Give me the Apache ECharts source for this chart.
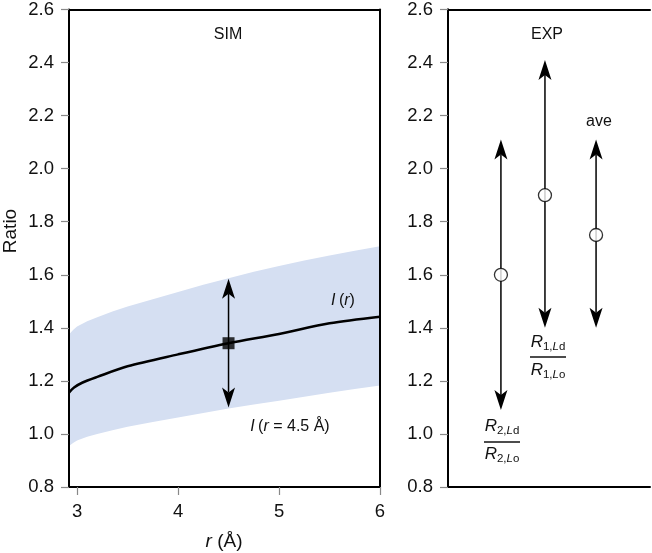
<!DOCTYPE html>
<html>
<head>
<meta charset="utf-8">
<script src="https://cdn.jsdelivr.net/npm/echarts@6/dist/echarts.min.js"></script>
<style>html,body{margin:0;padding:0;background:#fff;}#c{width:652px;height:553px;}</style>
</head>
<body>
<div id="c"></div>
<script>
// ---- data ----
const yTicks = [0.8, 1.0, 1.2, 1.4, 1.6, 1.8, 2.0, 2.2, 2.4, 2.6];
const xTicks = [3, 4, 5, 6];
const simR = [2.92, 2.97, 3.05, 3.2, 3.5, 4.0, 4.5, 5.0, 5.5, 6.0];
const simCurve = [1.156, 1.175, 1.193, 1.215, 1.255, 1.300, 1.342, 1.377, 1.417, 1.442];
const bandR = [2.92, 2.96, 3.0, 3.1, 3.2, 3.35, 3.5, 3.75, 4.0, 4.25, 4.5, 4.75, 5.0, 5.25, 5.5, 5.75, 6.0];
const bandUpper = [1.375, 1.392, 1.405, 1.425, 1.44, 1.462, 1.48, 1.508, 1.535, 1.562, 1.587, 1.611, 1.633, 1.654, 1.673, 1.691, 1.708];
const bandLower = [0.955, 0.966, 0.975, 0.989, 1.0, 1.014, 1.027, 1.045, 1.062, 1.079, 1.096, 1.111, 1.125, 1.140, 1.155, 1.169, 1.183];
// SIM point at r = 4.5 : [r, value, low, high]
const simPoint = [4.5, 1.342, 1.10, 1.585];
// EXP: positions on the (unitless) panel axis, centre values, low & high ends
const expCategories = ['R2', 'R1', 'ave'];
const expX = [0.262, 0.48, 0.733];
const expValue = [1.60, 1.90, 1.75];
const expLow = [1.09, 1.40, 1.40];
const expHigh = [2.11, 2.41, 2.11];

const FONT = 'Liberation Sans, Arial, Helvetica, sans-serif';
const chart = echarts.init(document.getElementById('c'));

function arrowItem(params, api) {
  const x = api.value(0);
  const lo = api.coord([x, api.value(2)]);
  const hi = api.coord([x, api.value(3)]);
  const px = lo[0];
  const L = 20, w = 6.5, n = 5;
  return {
    type: 'group',
    children: [
      { type: 'line', shape: { x1: px, y1: hi[1] + L - n, x2: px, y2: lo[1] - L + n },
        style: { stroke: '#000', lineWidth: 1.5 } },
      { type: 'polygon', shape: { points: [[px, hi[1]], [px - w, hi[1] + L], [px, hi[1] + L - n], [px + w, hi[1] + L]] },
        style: { fill: '#000' } },
      { type: 'polygon', shape: { points: [[px, lo[1]], [px - w, lo[1] - L], [px, lo[1] - L + n], [px + w, lo[1] - L]] },
        style: { fill: '#000' } }
    ]
  };
}

function bandItem(params, api) {
  if (params.dataIndex !== 0) return null;
  const pts = [];
  for (let i = 0; i < bandR.length; i++) pts.push(api.coord([bandR[i], bandUpper[i]]));
  for (let i = bandR.length - 1; i >= 0; i--) pts.push(api.coord([bandR[i], bandLower[i]]));
  return { type: 'polygon', shape: { points: pts }, style: { fill: '#d5dff2' } };
}

const yAxisCommon = {
  type: 'value', min: 0.8, max: 2.6, interval: 0.2, z: 10,
  axisLine: { show: true, lineStyle: { color: '#000', width: 2 } },
  axisTick: { show: true, length: 8, lineStyle: { color: '#888', width: 1.2 } },
  axisLabel: { color: '#111', fontSize: 18.5, fontFamily: FONT, margin: 15, formatter: v => v.toFixed(1) },
  splitLine: { show: false }
};
const borderAxisY = {
  type: 'value', min: 0.8, max: 2.6, position: 'right', z: 10,
  axisLine: { show: true, lineStyle: { color: '#000', width: 2 } },
  axisTick: { show: false }, axisLabel: { show: false }, splitLine: { show: false }
};

const option = {
  animation: false,
  backgroundColor: '#fff',
  grid: [
    { left: 69, top: 7, width: 311, height: 480 },
    { left: 448, top: 7, width: 202, height: 480 }
  ],
  xAxis: [
    { type: 'value', gridIndex: 0, min: 2.92, max: 6, z: 10,
      axisLine: { show: true, onZero: false, lineStyle: { color: '#000', width: 2 } },
      axisTick: { show: true, length: 8, customValues: xTicks, lineStyle: { color: '#888', width: 1.2 } },
      axisLabel: { color: '#111', fontSize: 18.5, fontFamily: FONT, margin: 15, customValues: xTicks },
      splitLine: { show: false } },
    { type: 'value', gridIndex: 0, min: 2.92, max: 6, position: 'top', z: 10,
      axisLine: { show: true, onZero: false, lineStyle: { color: '#000', width: 2 } },
      axisTick: { show: false }, axisLabel: { show: false }, splitLine: { show: false } },
    { type: 'value', gridIndex: 1, min: 0, max: 1, z: 10,
      axisLine: { show: true, onZero: false, lineStyle: { color: '#000', width: 2 } },
      axisTick: { show: false }, axisLabel: { show: false }, splitLine: { show: false } },
    { type: 'value', gridIndex: 1, min: 0, max: 1, position: 'top', z: 10,
      axisLine: { show: true, onZero: false, lineStyle: { color: '#000', width: 2 } },
      axisTick: { show: false }, axisLabel: { show: false }, splitLine: { show: false } }
  ],
  yAxis: [
    Object.assign({ gridIndex: 0 }, yAxisCommon),
    Object.assign({ gridIndex: 0 }, borderAxisY),
    Object.assign({ gridIndex: 1 }, yAxisCommon),
    Object.assign({ gridIndex: 1 }, borderAxisY)
  ],
  series: [
    { type: 'custom', xAxisIndex: 0, yAxisIndex: 0, z: 1, silent: true,
      renderItem: bandItem, data: [[bandR[0], bandLower[0]]], clip: true },
    { type: 'line', xAxisIndex: 0, yAxisIndex: 0, z: 2, smooth: 0.3, showSymbol: false,
      lineStyle: { color: '#000', width: 2.5 },
      data: simR.map((r, i) => [r, simCurve[i]]) },
    { type: 'custom', xAxisIndex: 0, yAxisIndex: 0, z: 3, renderItem: arrowItem,
      encode: { x: 0, y: [1, 2, 3] }, data: [simPoint] },
    { type: 'scatter', xAxisIndex: 0, yAxisIndex: 0, z: 4, symbol: 'rect', symbolSize: 12,
      itemStyle: { color: '#000' }, data: [[simPoint[0], simPoint[1]]] },
    { type: 'custom', xAxisIndex: 2, yAxisIndex: 2, z: 3, renderItem: arrowItem,
      encode: { x: 0, y: [1, 2, 3] },
      data: expX.map((x, i) => [x, expValue[i], expLow[i], expHigh[i]]) },
    { type: 'scatter', xAxisIndex: 2, yAxisIndex: 2, z: 4, symbol: 'circle', symbolSize: 13,
      itemStyle: { color: '#fff', borderColor: '#000', borderWidth: 1.3 },
      data: expX.map((x, i) => [x, expValue[i]]) }
  ],
  graphic: []
};
chart.setOption(option);

// ---- annotations ----
const T = (x, y, text, size, extra) => Object.assign({
  type: 'text', z: 20, x: x, y: y,
  style: Object.assign({ text: text, fill: '#111', font: size + 'px ' + FONT, align: 'center', verticalAlign: 'middle' }, extra || {})
});
const subRich = {
  R: { fontStyle: 'italic', fontSize: 17, fontFamily: FONT, fill: '#111', verticalAlign: 'top', lineHeight: 19 },
  s: { fontSize: 11.5, fontFamily: FONT, fill: '#111', verticalAlign: 'bottom', lineHeight: 11 },
  si: { fontSize: 11.5, fontStyle: 'italic', fontFamily: FONT, fill: '#111', verticalAlign: 'bottom', lineHeight: 11 }
};
const italRich = {
  i: { fontStyle: 'italic', fontSize: 16, fontFamily: FONT, fill: '#111' },
  n: { fontSize: 16, fontFamily: FONT, fill: '#111' }
};
function frac(cx, yNum, yBar, yDen, w, k) {
  return [
    { type: 'text', z: 20, x: cx, y: yNum, style: { text: '{R|R}{s|' + k + ',}{si|L}{s|d}', rich: subRich, align: 'center', verticalAlign: 'middle' } },
    { type: 'line', z: 20, shape: { x1: cx - w / 2, y1: yBar, x2: cx + w / 2, y2: yBar }, style: { stroke: '#111', lineWidth: 1.3 } },
    { type: 'text', z: 20, x: cx, y: yDen, style: { text: '{R|R}{s|' + k + ',}{si|L}{s|o}', rich: subRich, align: 'center', verticalAlign: 'middle' } }
  ];
}
const g = [
  T(228, 35, 'SIM', 16),
  T(547, 35, 'EXP', 16),
  T(599, 122, 'ave', 16),
  { type: 'text', z: 20, x: 343, y: 301, style: { text: '{i|I} {n|(}{i|r}{n|)}', rich: italRich, align: 'center', verticalAlign: 'middle' } },
  { type: 'text', z: 20, x: 290, y: 427, style: { text: '{i|I} {n|(}{i|r}{n| = 4.5 Å)}', rich: italRich, align: 'center', verticalAlign: 'middle' } },
  { type: 'text', z: 20, x: 11, y: 231, rotation: Math.PI / 2, style: { text: 'Ratio', font: '19px ' + FONT, fill: '#111', align: 'center', verticalAlign: 'middle' } },
  { type: 'text', z: 20, x: 224, y: 542, style: { text: '{i|r}{n| (Å)}', rich: {
      i: { fontStyle: 'italic', fontSize: 19, fontFamily: FONT, fill: '#111' },
      n: { fontSize: 19, fontFamily: FONT, fill: '#111' } }, align: 'center', verticalAlign: 'middle' } }
].concat(frac(548, 343, 357, 371, 36, 1)).concat(frac(502, 427, 442, 455, 36, 2));
chart.setOption({ graphic: g });
</script>
</body>
</html>
